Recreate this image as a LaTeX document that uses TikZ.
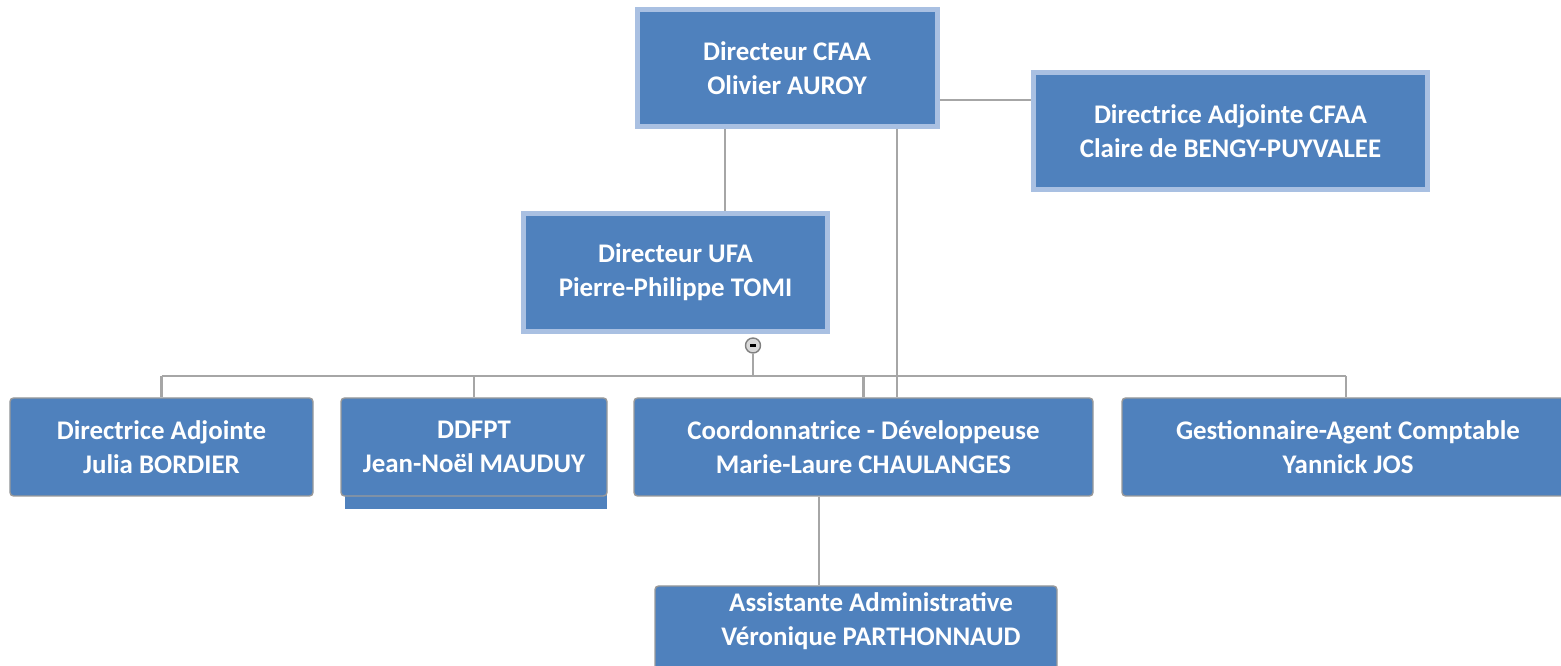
\documentclass[tikz,border=0pt]{standalone}
\usepackage{fontspec}
\setmainfont{Carlito}
\definecolor{boxblue}{HTML}{4F81BD}
\definecolor{boxedge}{HTML}{A9C0E2}
\definecolor{lowedge}{HTML}{9A9A9A}
\definecolor{linkgray}{HTML}{A6A6A6}
\begin{document}
\begin{tikzpicture}[
    every node/.style={align=center, text=white, font=\fontsize{15.3}{19.3}\selectfont\bfseries},
    topbox/.style={fill=boxblue, draw=boxedge, line width=0.1cm, inner sep=0pt, minimum height=2.34cm},
    lowbox/.style={fill=boxblue, draw=lowedge, line width=0.8pt, rounded corners=2pt, inner sep=0pt, minimum height=1.96cm},
    link/.style={draw=linkgray, line width=1.2pt}]
    \path[use as bounding box] (0,0) rectangle (31.22,-13.32);
    \clip (0,0) rectangle (31.22,-13.32);

    \node[topbox, minimum width=6.0cm] (cfaa) at (15.74,-1.36) {Directeur CFAA\\Olivier AUROY};
    \node[topbox, minimum width=7.88cm] (adjcfaa) at (24.61,-2.62) {Directrice Adjointe CFAA\\Claire de BENGY-PUYVALEE};
    \node[topbox, minimum width=6.08cm, minimum height=2.36cm] (ufa) at (13.51,-5.45) {Directeur UFA\\Pierre-Philippe TOMI};

    \fill[boxblue] (6.90,-9.80) rectangle (12.14,-10.18);
    \node[lowbox, minimum width=6.06cm] (diradj) at (3.23,-8.94) {Directrice Adjointe\\Julia BORDIER};
    \node[lowbox, minimum width=5.32cm] (ddfpt) at (9.48,-8.94) {DDFPT\\Jean-Noël MAUDUY};
    \node[lowbox, minimum width=9.18cm] (coord) at (17.27,-8.94) {Coordonnatrice - Développeuse\\Marie-Laure CHAULANGES};
    \node[lowbox, minimum width=9.04cm] (gest) at (26.96,-8.94) {Gestionnaire-Agent Comptable\\Yannick JOS};
    \node[lowbox, minimum width=8.04cm, minimum height=1.88cm] (asst) at (17.12,-12.66) {};
    \node (assttext) at (17.42,-12.42) {Assistante Administrative\\Véronique PARTHONNAUD};

    \node[circle, fill=gray!30, draw=gray, line width=0.8pt, minimum size=0.3cm, inner sep=0pt, text=black] (toggle) at (15.06,-6.91) {};
    \draw[black, line width=1.4pt] ([xshift=-0.06cm]toggle.center) -- ([xshift=0.06cm]toggle.center);
    \coordinate (bus) at (15.06,-7.52);

    \draw[link] ([yshift=-0.64cm]cfaa.east) -- ([yshift=-0.64cm]cfaa.east -| adjcfaa.west);
    \draw[link] ([xshift=-1.24cm]cfaa.south) -- ([xshift=-1.24cm]cfaa.south |- ufa.north);
    \draw[link] ([xshift=2.2cm]cfaa.south) -- ([xshift=2.2cm]cfaa.south |- coord.north);
    \draw[link] (toggle) -- (bus);
    \draw[link] (bus -| diradj.north) -- ([xshift=-0.04cm]bus -| gest.north);
    \foreach \n in {diradj, ddfpt, coord}
        \draw[link] (bus -| \n.north) -- (\n.north);
    \draw[link] ([xshift=-0.04cm]bus -| gest.north) -- ([xshift=-0.04cm]gest.north);
    \draw[link] ([xshift=-0.89cm]coord.south) -- ([xshift=-0.89cm]coord.south |- asst.north);
\end{tikzpicture}
\end{document}
